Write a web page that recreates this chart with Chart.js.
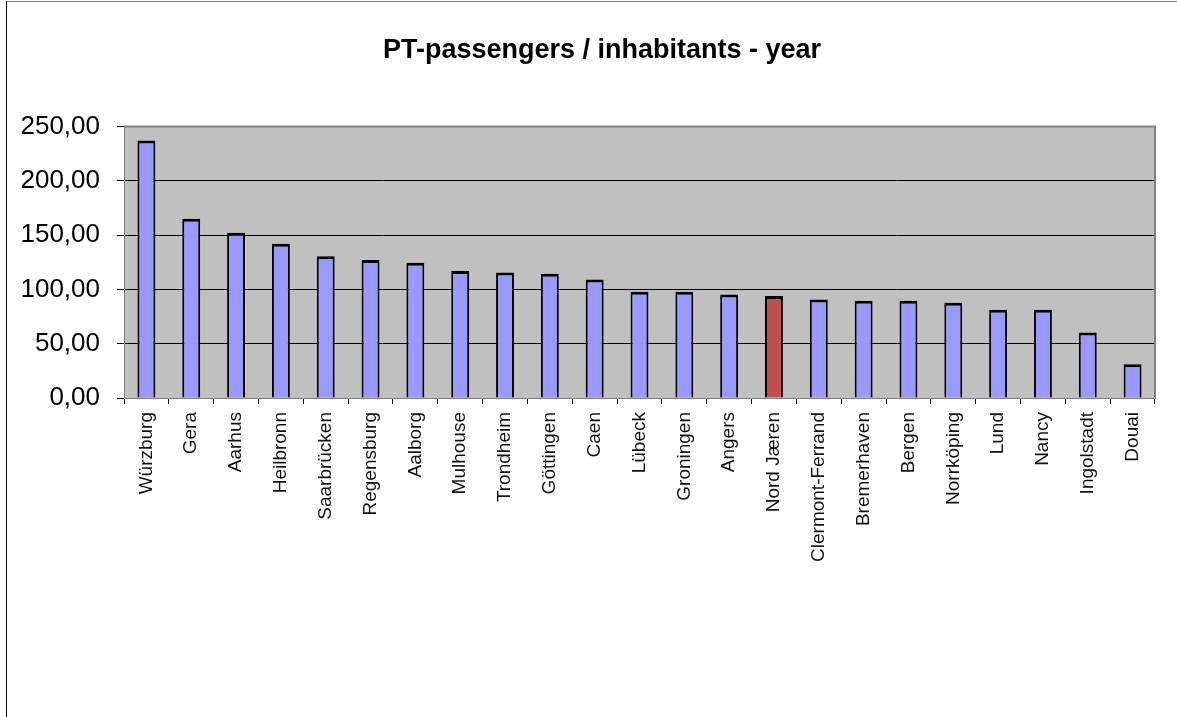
<!DOCTYPE html>
<html>
<head>
<meta charset="utf-8">
<script src="https://cdn.jsdelivr.net/npm/chart.js@4/dist/chart.umd.min.js"></script>
<style>
  html, body { margin: 0; padding: 0; background: #fff; }
  #wrap { position: relative; width: 1177px; height: 717px; }
  #frame { position: absolute; left: 6px; top: 1px; right: 0; bottom: 0;
           border-top: 1px solid #808080; border-left: 1px solid #000; pointer-events: none; }
  canvas { position: absolute; left: 0; top: 0; }
</style>
</head>
<body>
<div id="wrap">
  <canvas id="grafico" width="1177" height="717"></canvas>
  <div id="frame"></div>
</div>
<script>
const cidades = ['Würzburg', 'Gera', 'Aarhus', 'Heilbronn', 'Saarbrücken', 'Regensburg', 'Aalborg',
  'Mulhouse', 'Trondheim', 'Göttingen', 'Caen', 'Lübeck', 'Groningen', 'Angers', 'Nord Jæren',
  'Clermont-Ferrand', 'Bremerhaven', 'Bergen', 'Norrköping', 'Lund', 'Nancy', 'Ingolstadt', 'Douai'];
const passageiros = [237, 165, 152, 142, 130.5, 127, 124.5, 117, 115.5, 114.3, 109, 97.7, 97.7, 95.3,
  94, 90.7, 89.5, 89.5, 87.6, 81.2, 81.2, 60.4, 31];
const destaque = 'Nord Jæren';
const yTicks = [0, 50, 100, 150, 200, 250];

const coresBarras = cidades.map(c => c === destaque ? '#C0504D' : '#9999FF');

// fundo cinza da área do gráfico + borda
const fundoPlot = {
  id: 'fundoPlot',
  afterLayout(chart) {
    // centraliza o título um pouco mais à direita, como no original
    if (chart.titleBlock) chart.titleBlock.left = 49;
  },
  beforeDraw(chart) {
    const { ctx, chartArea: a } = chart;
    ctx.save();
    ctx.fillStyle = '#C0C0C0';
    ctx.fillRect(a.left, a.top, a.right - a.left, a.bottom - a.top);
    ctx.restore();
  },
  afterDatasetsDraw(chart) {
    const { ctx, chartArea: a } = chart;
    ctx.save();
    ctx.strokeStyle = '#808080';
    ctx.lineWidth = 2;
    ctx.beginPath();
    ctx.moveTo(a.left, a.top);
    ctx.lineTo(a.right, a.top);
    ctx.lineTo(a.right, a.bottom);
    ctx.stroke();
    ctx.restore();
  }
};

new Chart(document.getElementById('grafico').getContext('2d'), {
  type: 'bar',
  data: {
    labels: cidades,
    datasets: [{
      data: passageiros,
      backgroundColor: coresBarras,
      borderColor: '#000',
      borderWidth: { top: 3, left: 2, right: 2, bottom: 0 },
      borderSkipped: 'bottom',
      barPercentage: 0.4,
      categoryPercentage: 1
    }]
  },
  options: {
    responsive: false,
    animation: false,
    layout: { padding: { left: 0, right: 22, top: 0, bottom: 0 } },
    plugins: {
      legend: { display: false },
      tooltip: { enabled: false },
      title: {
        display: true,
        text: 'PT-passengers / inhabitants - year',
        color: '#000',
        font: { family: 'Liberation Sans', size: 27, weight: 'bold' },
        padding: { top: 34, bottom: 60 }
      }
    },
    scales: {
      y: {
        min: 0,
        max: 250,
        afterBuildTicks: s => { s.ticks = yTicks.map(v => ({ value: v })); },
        afterFit: s => { s.width = 124; },
        border: { color: '#808080', width: 1 },
        grid: {
          color: ctx => (ctx.tick && (ctx.tick.value === 0 || ctx.tick.value === 250)) ? '#808080' : '#000',
          tickLength: 7,
          tickColor: '#000'
        },
        ticks: {
          padding: 17,
          color: '#000',
          font: { family: 'Liberation Sans', size: 26 },
          callback: v => v.toFixed(2).replace('.', ',')
        }
      },
      x: {
        offset: true,
        afterFit: s => { s.height = 319; },
        border: { color: '#808080', width: 1 },
        grid: {
          offset: true,
          drawOnChartArea: false,
          tickLength: 6,
          tickColor: '#000'
        },
        ticks: {
          autoSkip: false,
          minRotation: 90,
          maxRotation: 90,
          padding: 8,
          color: '#111',
          font: { family: 'Liberation Sans', size: 19 }
        }
      }
    }
  },
  plugins: [fundoPlot]
});
</script>
</body>
</html>
